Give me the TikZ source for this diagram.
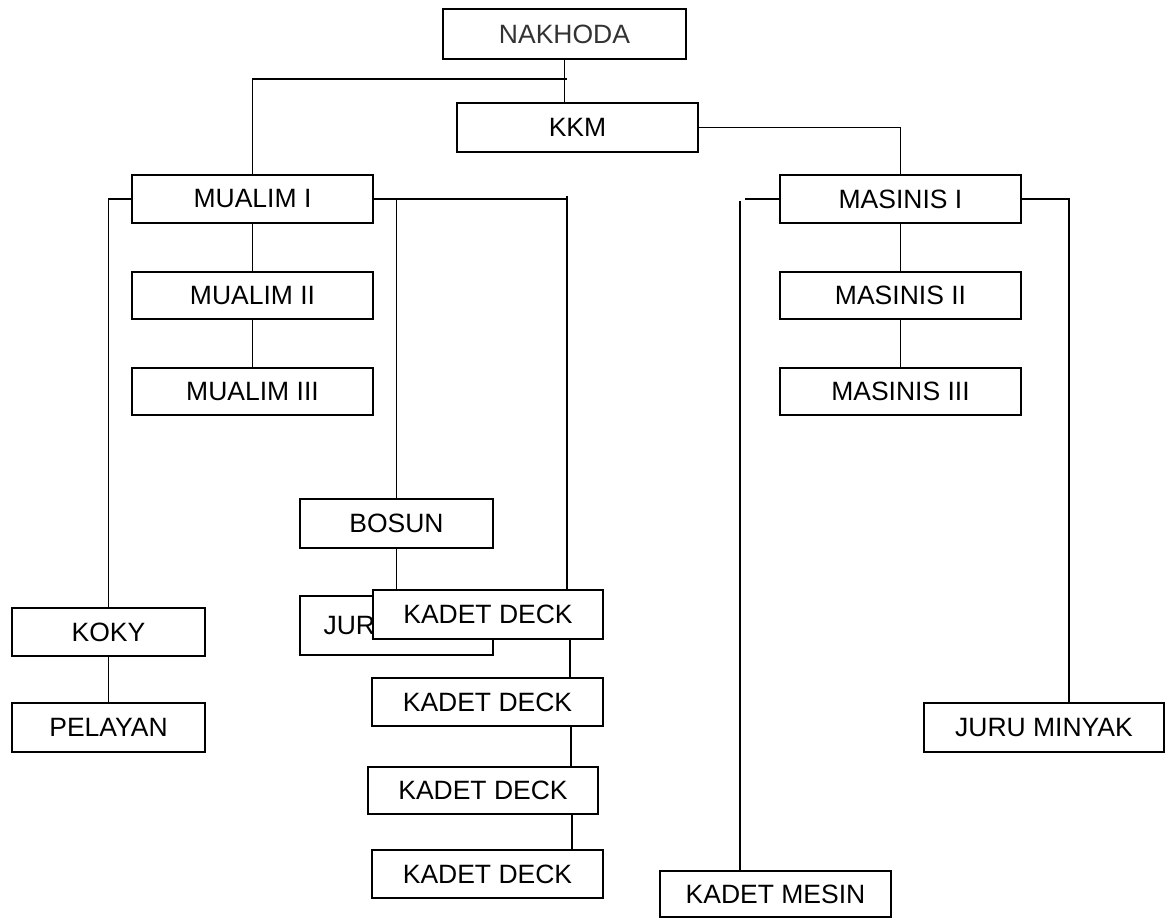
\documentclass[tikz,border=0pt]{standalone}
\usepackage{fontspec}
\setmainfont{Liberation Sans}
\usetikzlibrary{backgrounds}
\begin{document}
\begin{tikzpicture}[x=1pt,y=-1pt,
  box/.style={draw=black,line width=1.5pt,fill=white,inner sep=0pt,
    minimum width=#1,font=\fontsize{26.5}{30}\selectfont,text=black},
  box/.default=241pt,
  conn/.style={draw=black,line width=1.5pt}]
\useasboundingbox (0,0) rectangle (1173,920);
% nodes
\node[box=243pt,minimum height=50pt,text=black!80] (NAK) at (564.5,34) {NAKHODA};
\node[box=241pt,minimum height=49pt] (KKM) at (577.5,127.5) {KKM};
\node[box=241pt,minimum height=48pt] (MU1) at (252.5,199) {MUALIM I};
\node[box=241pt,minimum height=47pt] (MU2) at (252.5,295.5) {MUALIM II};
\node[box=241pt,minimum height=47pt] (MU3) at (252.5,391.5) {MUALIM III};
\node[box=241pt,minimum height=48pt] (MA1) at (900.5,199) {MASINIS I};
\node[box=241pt,minimum height=47pt] (MA2) at (900.5,295.5) {MASINIS II};
\node[box=241pt,minimum height=47pt] (MA3) at (900.5,391.5) {MASINIS III};
\node[box=193pt,minimum height=49pt] (BOS) at (396.5,523.5) {BOSUN};
\node[box=193pt,minimum height=59pt] (JUR) at (396.5,625.5) {\makebox[146pt][l]{JUR}};
\node[box=230pt,minimum height=49pt] (KD1) at (488,614.5) {KADET DECK};
\node[box=231pt,minimum height=48pt] (KD2) at (487.5,702) {KADET DECK};
\node[box=230pt,minimum height=47pt] (KD3) at (483,790.5) {KADET DECK};
\node[box=231pt,minimum height=48pt] (KD4) at (487.5,874) {KADET DECK};
\node[box=193pt,minimum height=48pt] (KOKY) at (108.5,632) {KOKY};
\node[box=193pt,minimum height=49pt] (PEL) at (108.5,727.5) {PELAYAN};
\node[box=240pt,minimum height=49pt] (JMIN) at (1044,727.5) {JURU MINYAK};
\node[box=231pt,minimum height=46pt] (KMES) at (775.5,894) {KADET MESIN};
% helper coordinates
\coordinate (j1) at (567,79);
\coordinate (k0) at (567,196);
\coordinate (xa) at (570,0);
\coordinate (xb) at (571,0);
\coordinate (xc) at (572,0);
\coordinate (m0) at (745,199);
\coordinate (m1) at (740,201);
\coordinate (xr) at (1069,0);
\begin{scope}[on background layer]
\draw[conn] (NAK.south) -- (NAK.south |- KKM.north);
\draw[conn] (j1) -| (MU1.north);
\draw[conn] (KKM.east) -| (MA1.north);
\draw[conn] (MU1.south) -- (MU2.north);
\draw[conn] (MU2.south) -- (MU3.north);
\draw[conn] (MU1.west) -| (KOKY.north);
\draw[conn] (KOKY.south) -- (PEL.north);
\draw[conn] (MU1.east) -- (MU1.east -| k0);
\draw[conn] (k0) -- (k0 |- KD1.north);
\draw[conn] (MU1.east -| BOS.north) -- (BOS.north);
\draw[conn] (BOS.south) -- (JUR.north);
\draw[conn] (KD1.south -| xa) -- (KD2.north -| xa);
\draw[conn] (KD2.south -| xb) -- (KD3.north -| xb);
\draw[conn] (KD3.south -| xc) -- (KD4.north -| xc);
\draw[conn] (MA1.south) -- (MA2.north);
\draw[conn] (MA2.south) -- (MA3.north);
\draw[conn] (MA1.west) -- (m0);
\draw[conn] (m1) -- (m1 |- KMES.north);
\draw[conn] (MA1.east) -| (xr |- JMIN.north);
\end{scope}
\end{tikzpicture}
\end{document}
